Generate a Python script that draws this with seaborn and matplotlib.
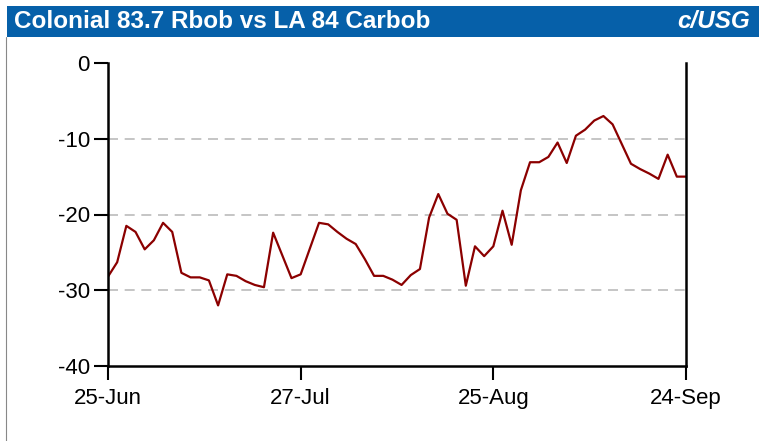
import numpy as np
import pandas as pd
import seaborn as sns
import matplotlib.pyplot as plt
from matplotlib.patches import Rectangle
from matplotlib.lines import Line2D

title = "Colonial 83.7 Rbob vs LA 84 Carbob"
unit = "c/USG"

# trading days 25-Jun .. 24-Sep, spread (c/USG)
spread = [-28.2, -26.3, -21.5, -22.3, -24.6, -23.4, -21.1, -22.3, -27.7, -28.3,
          -28.3, -28.7, -32.0, -27.9, -28.1, -28.8, -29.3, -29.6, -22.4, -25.4,
          -28.4, -27.9, -24.5, -21.1, -21.3, -22.3, -23.2, -23.9, -25.9, -28.1,
          -28.1, -28.6, -29.3, -28.0, -27.2, -20.4, -17.3, -19.9, -20.7, -29.4,
          -24.2, -25.5, -24.2, -19.5, -24.0, -16.8, -13.1, -13.1, -12.4, -10.5,
          -13.2, -9.6, -8.8, -7.6, -7.0, -8.1, -10.7, -13.3, -14.0, -14.6,
          -15.3, -12.1, -15.0, -15.0]
tick_pos = [0, 21, 42, 63]
tick_labels = ["25-Jun", "27-Jul", "25-Aug", "24-Sep"]
y_ticks = [0, -10, -20, -30, -40]

df = pd.DataFrame({"day": np.arange(len(spread)), "spread": spread})

sns.set_style("white")
plt.rcParams['font.family'] = ['Liberation Sans', 'DejaVu Sans']
plt.rcParams['axes.unicode_minus'] = False

fig = plt.figure(figsize=(7.59, 4.41), dpi=100)
ax = fig.add_axes([108/759, 1-366/441, 578/759, 303/441])

# title bar
fig.patches.append(Rectangle((7/759, 1-37/441), 1-7/759, 31/441, transform=fig.transFigure,
                             facecolor="#0660A9", edgecolor="none", zorder=0))
fig.lines.append(Line2D([6/759, 6/759], [0, 1-37/441], transform=fig.transFigure,
                        color="#888888", lw=0.8))
fig.text(14/759, 1-21/441, title, color="white", fontsize=17.5, fontweight="bold",
         va="center", ha="left")
fig.text(750/759, 1-21/441, unit, color="white", fontsize=17.5, fontweight="bold",
         style="italic", va="center", ha="right")

sns.lineplot(data=df, x="day", y="spread", ax=ax, color="#8B0000", lw=1.6)

for v in [-10, -20, -30]:
    ax.axhline(v, color="#BBBBBB", lw=1.2, ls=(0, (6, 4)), zorder=0)

ax.set_xlim(0, len(spread) - 1)
ax.set_ylim(-40, 0)
ax.set_xticks(tick_pos)
ax.set_xticklabels(tick_labels)
ax.set_yticks(y_ticks)
ax.set_xlabel("")
ax.set_ylabel("")
ax.tick_params(axis="both", direction="out", length=10, width=1.5, colors="black",
               labelsize=16, bottom=True, left=True)
ax.tick_params(axis="x", pad=6)
ax.tick_params(axis="y", pad=3)
ax.spines["top"].set_visible(False)
for s in ["left", "bottom", "right"]:
    ax.spines[s].set_color("black")
    ax.spines[s].set_linewidth(1.8)

fig.savefig("out.png", dpi=100)
